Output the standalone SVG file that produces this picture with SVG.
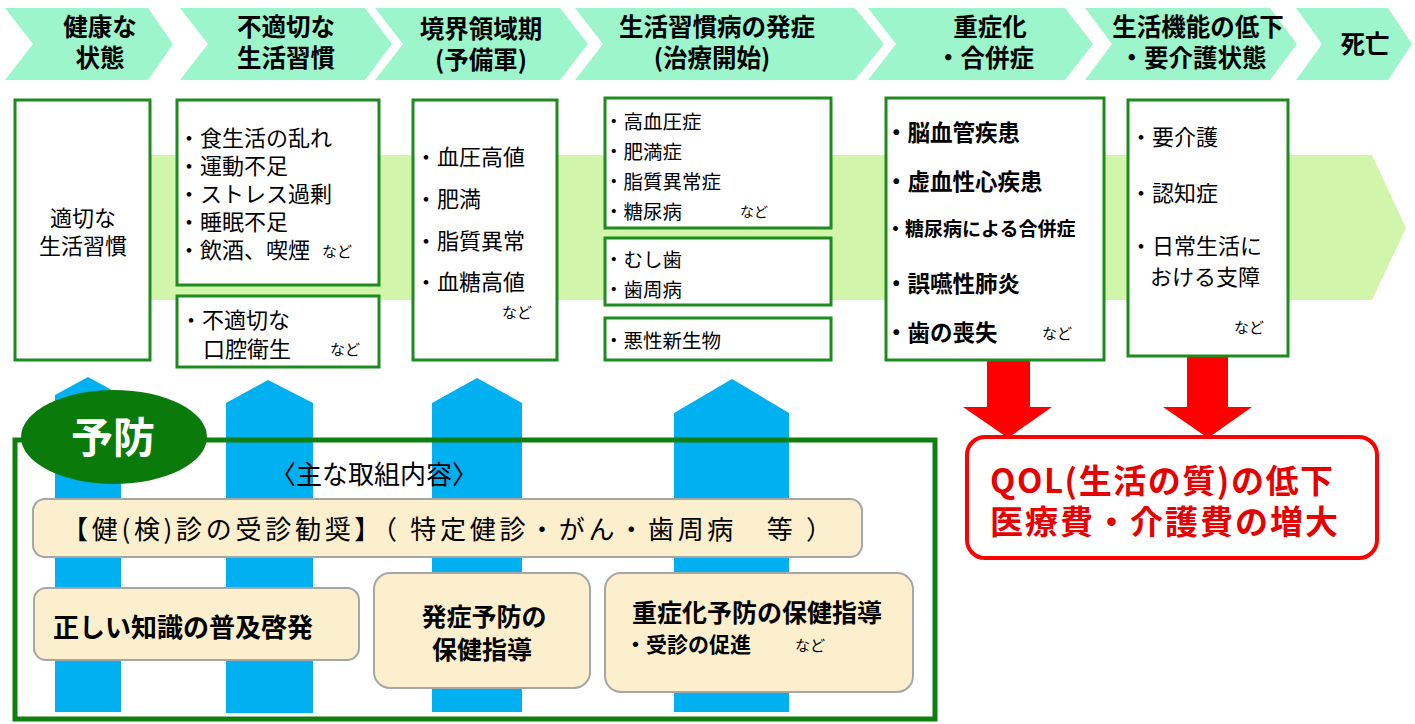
<svg xmlns="http://www.w3.org/2000/svg" width="1415" height="724" viewBox="0 0 1415 724">
<style>
text{font-family:"Noto Sans CJK JP","Noto Sans",sans-serif;fill:#000}
.chev{fill:#9DF5CB}
.ct{font-size:24.5px;font-weight:bold;text-anchor:middle}
.box{fill:#fff;stroke:#1E8B1E;stroke-width:3}
.t21{font-size:22px}
.t19{font-size:19.5px}
.t5{font-size:22.5px;font-weight:bold}
.nado{font-size:15px}
.blue{fill:#00B0F0}
.red{fill:#FF0000}
.tan{fill:#FCEFCD;stroke:#A6A6A6;stroke-width:2}
.tt{font-size:26px}
.rt{font-size:33px;font-weight:bold;fill:#E60000}
</style>
<rect width="1415" height="724" fill="#fff"/>
<g id="stages">
<g id="stage1"><polygon class="chev" points="5,8 148,8 173,44 148,80 5,80 33,44"/><text class="ct" x="100" y="36">健康な<tspan x="100" y="67">状態</tspan></text></g>
<g id="stage2"><polygon class="chev" points="180,8 365,8 392,44 365,80 180,80 208,44"/><text class="ct" x="286" y="36">不適切な<tspan x="286" y="67">生活習慣</tspan></text></g>
<g id="stage3"><polygon class="chev" points="375,8 560,8 588,44 560,80 375,80 403,44"/><text class="ct" x="481" y="38">境界領域期<tspan x="481" y="69">(予備軍)</tspan></text></g>
<g id="stage4"><polygon class="chev" points="575,8 855,8 884,44 855,80 575,80 603,44"/><text class="ct" x="717" y="36">生活習慣病の発症<tspan x="712" y="67">(治療開始)</tspan></text></g>
<g id="stage5"><polygon class="chev" points="868,8 1065,8 1093,44 1065,80 868,80 896,44"/><text class="ct" x="990" y="36">重症化<tspan x="985" y="67">・合併症</tspan></text></g>
<g id="stage6"><polygon class="chev" points="1085,8 1270,8 1297,44 1270,80 1085,80 1112,44"/><text class="ct" x="1198" y="36">生活機能の低下<tspan x="1193" y="67">・要介護状態</tspan></text></g>
<g id="stage7"><polygon class="chev" points="1296,8 1388,8 1412,44 1388,80 1296,80 1322,44"/><text class="ct" x="1365" y="53">死亡</text></g>
</g>
<polygon id="band" points="15,155 1372,155 1406,228 1372,300 15,300" fill="#D1F5AA"/>
<g id="connectors">
<polygon class="blue" points="55,395 88,377 121,395 121,712 55,712"/>
<polygon class="blue" points="226,403 268,380 313,403 313,713 226,713"/>
<polygon class="blue" points="432,403 477,378 522,403 522,712 432,712"/>
<polygon class="blue" points="674,413 732,379 789,413 789,712 674,712"/>
<polygon class="red" points="987,358 1030,358 1030,407 1052,407 1008,438 963,407 987,407"/>
<polygon class="red" points="1187,356 1228,356 1228,407 1252,407 1208,438 1163,407 1187,407"/>
</g>
<g id="box1"><rect class="box" x="15" y="100" width="135" height="260"/><text class="t21" x="83" y="226" text-anchor="middle">適切な<tspan x="83" y="254">生活習慣</tspan></text></g>
<g id="box2a"><rect class="box" x="177" y="100" width="202" height="185"/>
<text class="t21" x="178" y="146">・食生活の乱れ<tspan x="178" y="174">・運動不足</tspan><tspan x="178" y="202">・ストレス過剰</tspan><tspan x="178" y="230">・睡眠不足</tspan><tspan x="178" y="258">・飲酒、喫煙</tspan><tspan class="nado" x="322" y="257">など</tspan></text></g>
<g id="box2b"><rect class="box" x="177" y="296" width="202" height="71"/><text class="t21" x="180" y="328">・不適切な<tspan x="203" y="357">口腔衛生</tspan><tspan class="nado" x="330" y="355">など</tspan></text></g>
<g id="box3"><rect class="box" x="413" y="100" width="144" height="260"/>
<text class="t21" x="415" y="165">・血圧高値<tspan x="415" y="207">・肥満</tspan><tspan x="415" y="249">・脂質異常</tspan><tspan x="415" y="290">・血糖高値</tspan><tspan class="nado" x="502" y="318">など</tspan></text></g>
<g id="box4a"><rect class="box" x="605" y="98" width="226" height="130"/>
<text class="t19" x="604" y="129">・高血圧症<tspan x="604" y="159">・肥満症</tspan><tspan x="604" y="189">・脂質異常症</tspan><tspan x="604" y="219">・糖尿病</tspan><tspan x="740" y="217" style="font-size:14px">など</tspan></text></g>
<g id="box4b"><rect class="box" x="605" y="238" width="226" height="67"/><text class="t19" x="604" y="267">・むし歯<tspan x="604" y="297">・歯周病</tspan></text></g>
<g id="box4c"><rect class="box" x="605" y="318" width="226" height="42"/><text class="t19" x="604" y="348">・悪性新生物</text></g>
<g id="box5"><rect class="box" x="886" y="98" width="218" height="262"/>
<text class="t5" x="885" y="141">・脳血管疾患<tspan x="885" y="190">・虚血性心疾患</tspan><tspan x="886" y="236" style="font-size:19px">・糖尿病による合併症</tspan><tspan x="885" y="292">・誤嚥性肺炎</tspan><tspan x="885" y="341">・歯の喪失</tspan><tspan x="1042" y="339" style="font-size:15px;font-weight:normal">など</tspan></text></g>
<g id="box6"><rect class="box" x="1128" y="100" width="160" height="256"/>
<text class="t21" x="1130" y="145">・要介護<tspan x="1130" y="201">・認知症</tspan><tspan x="1130" y="254">・日常生活に</tspan><tspan x="1150" y="285">おける支障</tspan><tspan class="nado" x="1234" y="333">など</tspan></text></g>
<g id="prevention">
<rect x="15" y="440" width="920" height="279" fill="none" stroke="#0F7F0F" stroke-width="5"/>
<ellipse cx="114" cy="437" rx="93" ry="47" fill="#0A7A0A"/>
<text x="113" y="453" text-anchor="middle" style="font-size:42px;font-weight:bold;fill:#fff">予防</text>
<text x="374" y="484" text-anchor="middle" style="font-size:26px">〈主な取組内容〉</text>
</g>
<g id="tanA"><rect class="tan" x="33" y="499" width="829" height="58" rx="12"/><text class="tt" x="62" y="539" textLength="770" lengthAdjust="spacing">【健(検)診の受診勧奨】（ 特定健診・がん・歯周病　等 ）</text></g>
<g id="tanB"><rect class="tan" x="34" y="588" width="325" height="72" rx="12"/><text x="53" y="637" style="font-size:26px;font-weight:bold">正しい知識の普及啓発</text></g>
<g id="tanC"><rect class="tan" x="374" y="573" width="216" height="115" rx="16"/><text x="484" y="626" text-anchor="middle" style="font-size:25px;font-weight:bold">発症予防の<tspan x="482" y="659">保健指導</tspan></text></g>
<g id="tanD"><rect class="tan" x="605" y="573" width="308" height="119" rx="16"/><text x="632" y="622" style="font-size:25px;font-weight:bold">重症化予防の保健指導<tspan x="625" y="652" style="font-size:21px">・受診の促進</tspan><tspan x="795" y="651" style="font-size:15px;font-weight:normal">など</tspan></text></g>
<g id="result"><rect x="967" y="437" width="410" height="121" rx="18" fill="#fff" stroke="#FF0000" stroke-width="4"/>
<text class="rt" x="990" y="493"><tspan textLength="343" lengthAdjust="spacing">QOL(生活の質)の低下</tspan><tspan x="990" y="534" textLength="348" lengthAdjust="spacing">医療費・介護費の増大</tspan></text></g>
</svg>
